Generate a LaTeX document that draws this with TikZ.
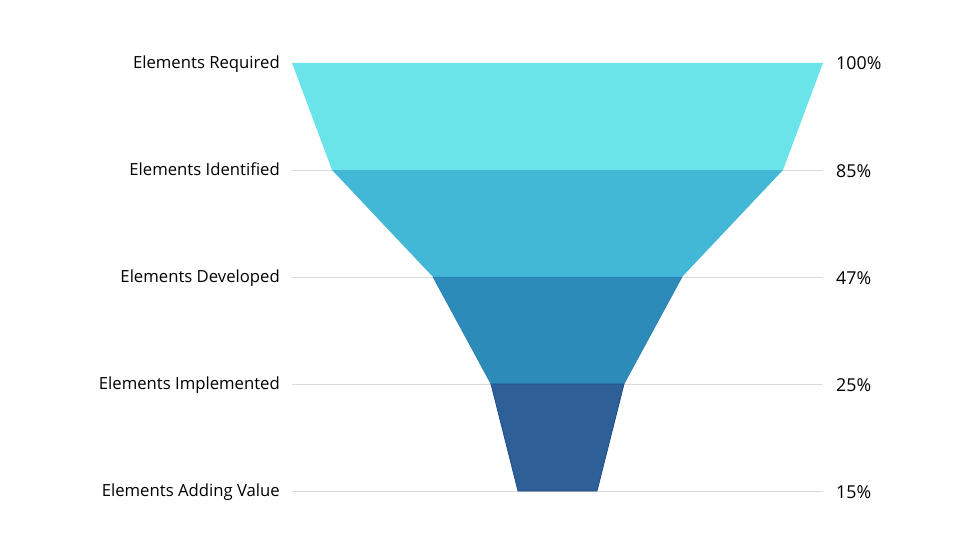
\documentclass[tikz,border=0pt]{standalone}
\usepackage{fontspec}
\setmainfont{Open Sans}
\definecolor{c1}{HTML}{6AE4E8}
\definecolor{c2}{HTML}{43B7D6}
\definecolor{c3}{HTML}{2D8BBA}
\definecolor{c4}{HTML}{2E5F96}
\definecolor{e3}{HTML}{2479AC}
\definecolor{e4}{HTML}{1F4E88}
\definecolor{grid}{HTML}{DADADA}
\tikzset{
  lbl/.style={anchor=base east, inner sep=0pt, font=\fontsize{16.7}{19}\selectfont},
  pct/.style={anchor=base west, inner sep=0pt, font=\fontsize{17.8}{20}\selectfont},
  gridline/.style={draw=grid, line width=0.8pt},
}
\begin{document}
\begin{tikzpicture}[x=1pt,y=-1pt]
\useasboundingbox (0,0) rectangle (980,551);
% grid lines
\foreach \yy in {63,170,277,384,491} \draw[gridline] (292,\yy) -- (823,\yy);
% funnel
\coordinate (a1) at (292,63); \coordinate (b1) at (823,63);
\coordinate (a2) at (332,170); \coordinate (b2) at (783,170);
\coordinate (a3) at (433,277); \coordinate (b3) at (682,277);
\coordinate (a4) at (491,384); \coordinate (b4) at (624,384);
\coordinate (a5) at (518,491); \coordinate (b5) at (597,491);
\fill[c1] (a1) -- (b1) -- (b2) -- (a2) -- cycle;
\fill[c2] (a2) -- (b2) -- (b3) -- (a3) -- cycle;
\filldraw[fill=c3, draw=e3, line width=0.5pt] (a3) -- (b3) -- (b4) -- (a4) -- cycle;
\filldraw[fill=c4, draw=e4, line width=0.8pt] (a4) -- (b4) -- (b5) -- (a5) -- cycle;
% labels
\node[lbl] (l1) at (280,68.5) {Elements Required};
\node[lbl] (l2) at (280,175.5) {Elements Identified};
\node[lbl] (l3) at (280,282.5) {Elements Developed};
\node[lbl] (l4) at (280,389.5) {Elements Implemented};
\node[lbl] (l5) at (280,496.5) {Elements Adding Value};
\node[pct] (p1) at (836,70) {100\%};
\node[pct] (p2) at (836,177) {85\%};
\node[pct] (p3) at (836,284) {47\%};
\node[pct] (p4) at (836,391) {25\%};
\node[pct] (p5) at (836,498) {15\%};
\end{tikzpicture}
\end{document}
